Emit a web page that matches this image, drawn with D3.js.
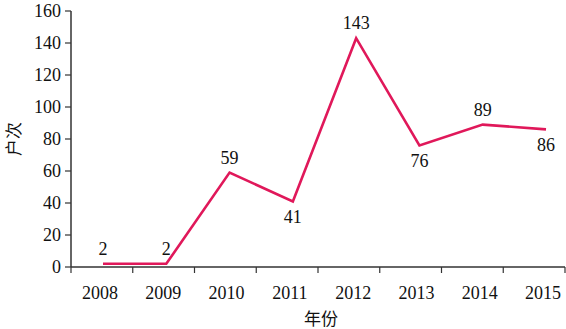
<!DOCTYPE html>
<html>
<head>
<meta charset="utf-8">
<script src="https://d3js.org/d3.v7.min.js"></script>
<style>
  html, body { margin: 0; padding: 0; background: #fff; }
  svg { display: block; }
</style>
</head>
<body>
<svg id="chart" width="566" height="329"></svg>
<script>
// chart data
const years = ["2008", "2009", "2010", "2011", "2012", "2013", "2014", "2015"];
const households = [2, 2, 59, 41, 143, 76, 89, 86];
const labelSide = ["above", "above", "above", "below", "above", "below", "above", "below"];
const yTicks = [0, 20, 40, 60, 80, 100, 120, 140, 160];

const width = 566;
const height = 329;
const lineColour = "#e0185a";
const axisColour = "#333";
const serif = "'Liberation Serif', 'DejaVu Serif', serif";
const cjk = "'Noto Sans CJK SC', sans-serif";

const svg = d3.select("#chart").attr("viewBox", [0, 0, width, height]);

// y scale
const y = d3.scaleLinear().domain([0, 160]).range([267, 11]);

// bands for the tick marks, points for the line
const xBand = d3.scaleBand().domain(years).range([71, 565]);
const x = d3.scalePoint().domain(years).range([103, 546]);

// y axis
const yAxis = svg.append("g").attr("transform", "translate(71,0)");
yAxis.append("line")
  .attr("x1", 0).attr("x2", 0)
  .attr("y1", y(160)).attr("y2", y(0))
  .attr("stroke", axisColour).attr("stroke-width", 1.5);
yAxis.selectAll(".tick")
  .data(yTicks)
  .join("line")
  .attr("x1", -6).attr("x2", 0)
  .attr("y1", (d) => y(d)).attr("y2", (d) => y(d))
  .attr("stroke", axisColour).attr("stroke-width", 1.2);
yAxis.selectAll("text")
  .data(yTicks)
  .join("text")
  .attr("x", -10)
  .attr("y", (d) => y(d))
  .attr("dy", "0.32em")
  .attr("text-anchor", "end")
  .attr("font-family", serif)
  .attr("font-size", 18)
  .attr("fill", "#111")
  .text((d) => d);

// x axis
const xAxis = svg.append("g").attr("transform", `translate(0,${y(0)})`);
xAxis.append("line")
  .attr("x1", 71).attr("x2", 565)
  .attr("y1", 0).attr("y2", 0)
  .attr("stroke", axisColour).attr("stroke-width", 1.5);
const edges = years.map((d) => xBand(d)).concat([xBand.range()[1]]);
xAxis.selectAll(".tick")
  .data(edges)
  .join("line")
  .attr("x1", (d) => d).attr("x2", (d) => d)
  .attr("y1", 0).attr("y2", 6)
  .attr("stroke", axisColour).attr("stroke-width", 1.2);
xAxis.selectAll("text")
  .data(years)
  .join("text")
  .attr("x", (d) => x(d) - 3)
  .attr("y", 32)
  .attr("text-anchor", "middle")
  .attr("font-family", serif)
  .attr("font-size", 18)
  .attr("fill", "#111")
  .text((d) => d);

// axis titles
svg.append("text")
  .attr("x", 321)
  .attr("y", 325)
  .attr("text-anchor", "middle")
  .attr("font-family", cjk)
  .attr("font-size", 17)
  .attr("fill", "#111")
  .text("年份");

svg.append("text")
  .attr("transform", "translate(20,139) rotate(-90)")
  .attr("text-anchor", "middle")
  .attr("font-family", cjk)
  .attr("font-size", 17)
  .attr("fill", "#111")
  .text("户次");

// the line
const data = years.map((d, i) => ({ year: d, value: households[i], side: labelSide[i] }));

const line = d3.line()
  .x((d) => x(d.year))
  .y((d) => y(d.value));

svg.append("path")
  .datum(data)
  .attr("fill", "none")
  .attr("stroke", lineColour)
  .attr("stroke-width", 2.6)
  .attr("stroke-linejoin", "miter")
  .attr("d", line);

// value labels
svg.append("g")
  .selectAll("text")
  .data(data)
  .join("text")
  .attr("x", (d) => x(d.year))
  .attr("y", (d) => y(d.value) + (d.side === "above" ? -9 : 22))
  .attr("text-anchor", "middle")
  .attr("font-family", serif)
  .attr("font-size", 18)
  .attr("fill", "#111")
  .text((d) => d.value);
</script>
</body>
</html>
